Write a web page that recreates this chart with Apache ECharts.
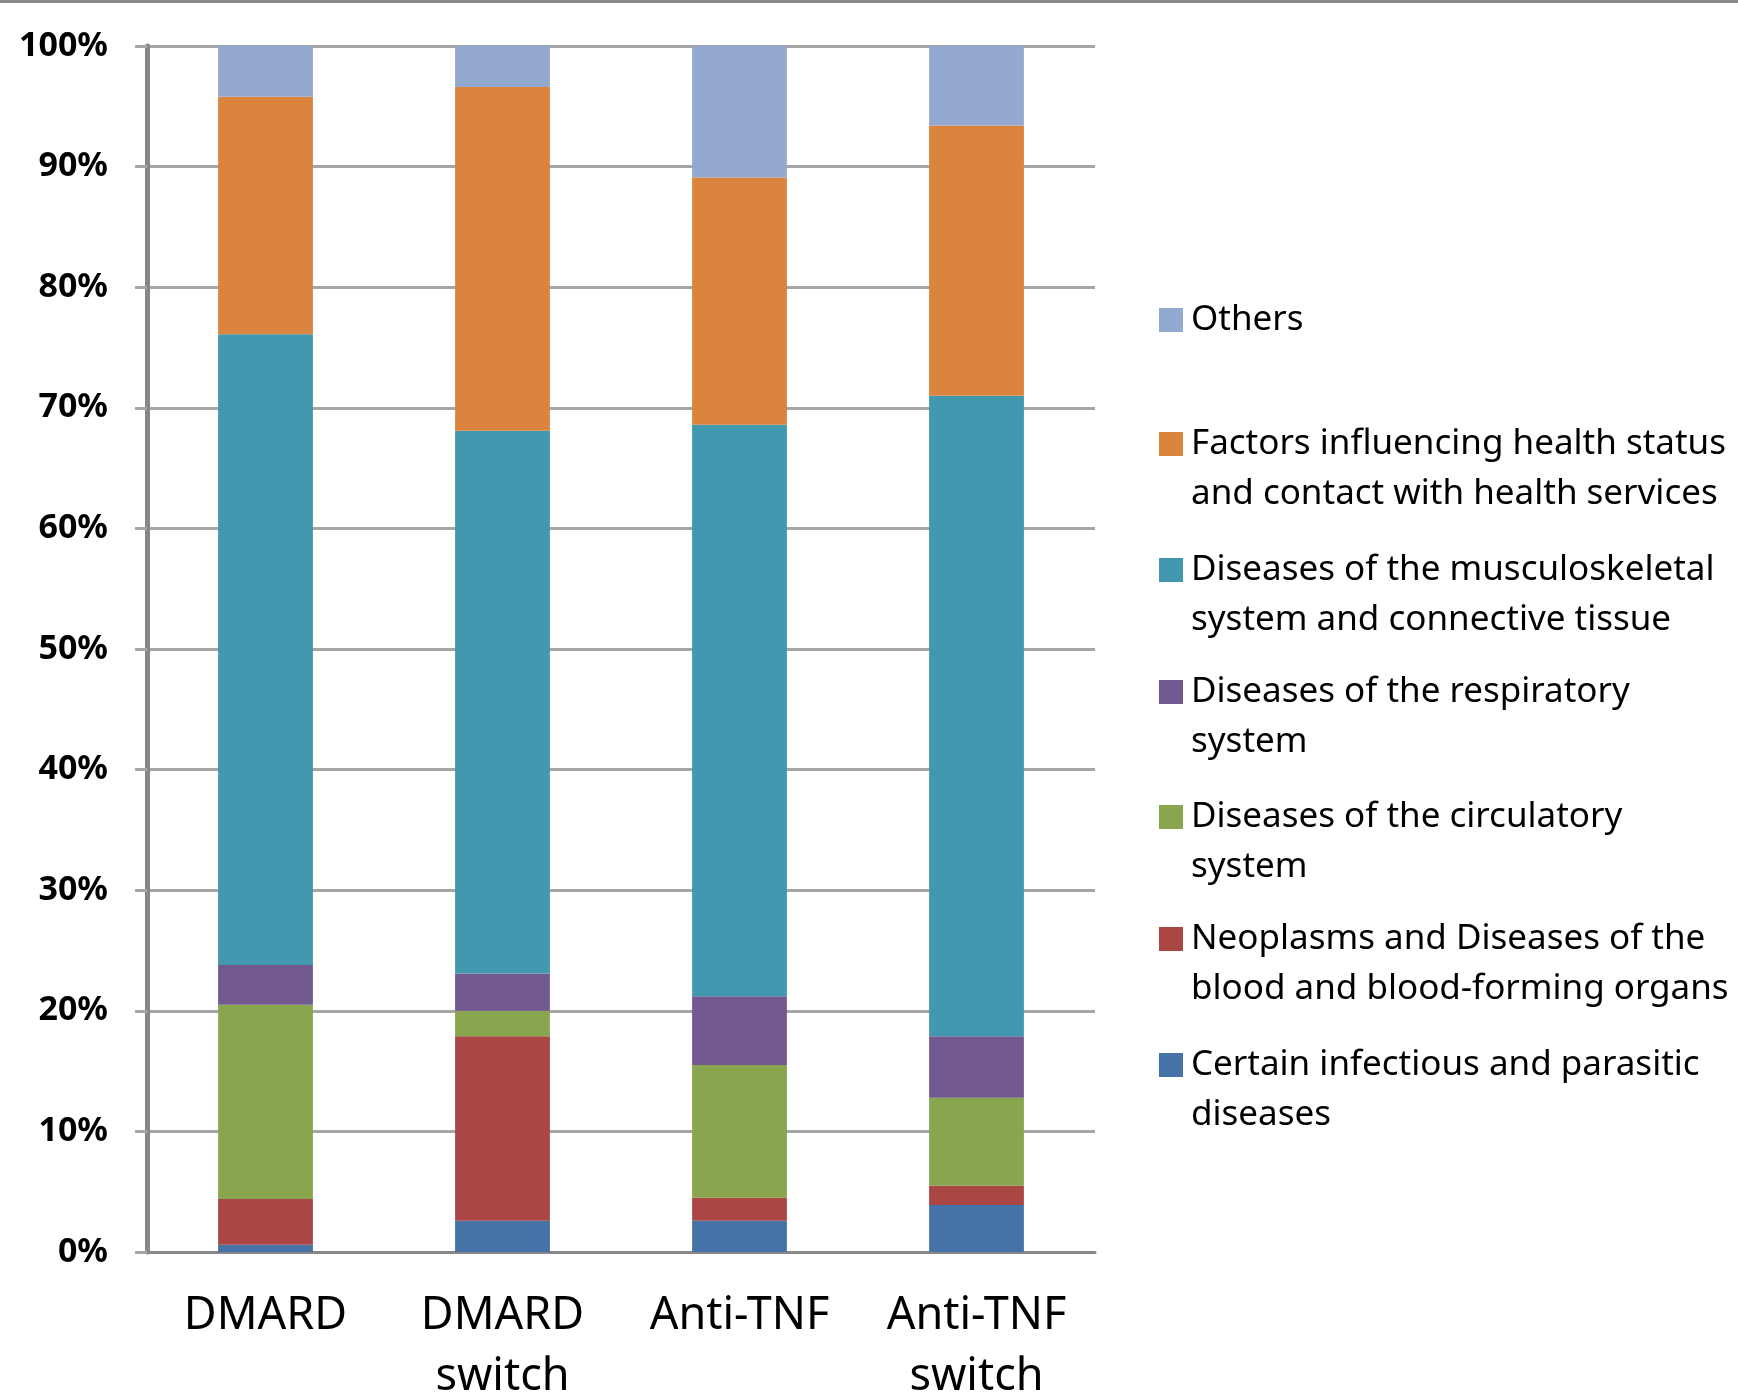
<!DOCTYPE html>
<html>
<head>
    <meta charset="utf-8" />
    <title>Diagnoses by treatment group</title>
    <style>
    body { margin: 0; background: #fff; }
    #chart { width: 1738px; height: 1397px; }
    </style>
    <script src="https://cdn.jsdelivr.net/npm/echarts@6/dist/echarts.min.js"></script>
</head>
<body>
    <div id="chart"></div>
    <script>
    // categories on the x axis
    var categories = ['DMARD', 'DMARD switch', 'Anti-TNF', 'Anti-TNF switch'];

    // share of each diagnosis group (%), bottom of the stack first
    var certainInfectious = [0.6, 2.6, 2.6, 3.9];
    var neoplasms = [3.8, 15.3, 1.9, 1.6];
    var circulatory = [16.1, 2.1, 11.0, 7.3];
    var respiratory = [3.3, 3.1, 5.7, 5.1];
    var musculoskeletal = [52.3, 45.0, 47.4, 53.1];
    var factors = [19.7, 28.5, 20.5, 22.4];
    var others = [4.2, 3.4, 10.9, 6.6];

    // y axis ticks
    var yMin = 0, yMax = 100, yStep = 10;

    var seriesNames = [
        'Certain infectious and parasitic diseases',
        'Neoplasms and Diseases of the blood and blood-forming organs',
        'Diseases of the circulatory system',
        'Diseases of the respiratory system',
        'Diseases of the musculoskeletal system and connective tissue',
        'Factors influencing health status and contact with health services',
        'Others'
    ];
    var seriesData = [certainInfectious, neoplasms, circulatory, respiratory, musculoskeletal, factors, others];
    var colors = ['#4572a7', '#aa4643', '#89a54e', '#71588f', '#4198af', '#db843d', '#93a9cf'];

    // legend text as wrapped in the original
    var legendText = {
        'Others': 'Others',
        'Factors influencing health status and contact with health services': 'Factors influencing health status\nand contact with health services',
        'Diseases of the musculoskeletal system and connective tissue': 'Diseases of the musculoskeletal\nsystem and connective tissue',
        'Diseases of the respiratory system': 'Diseases of the respiratory\nsystem',
        'Diseases of the circulatory system': 'Diseases of the circulatory\nsystem',
        'Neoplasms and Diseases of the blood and blood-forming organs': 'Neoplasms and Diseases of the\nblood and blood-forming organs',
        'Certain infectious and parasitic diseases': 'Certain infectious and parasitic\ndiseases'
    };

    var FONT = 'Noto Sans';
    var LINE = 50;
    // first-line centres of the legend entries, top to bottom
    var legendOrder = seriesNames.slice().reverse();
    var legendCenters = [320, 444, 570, 692, 817, 939, 1065];

    var legends = legendOrder.map(function(name, i) {
        var twoLines = legendText[name].indexOf('\n') >= 0;
        return {
            data: [name],
            orient: 'vertical',
            left: 1159,
            top: legendCenters[i] - (twoLines ? LINE * 1.5 : LINE / 2),
            padding: 0,
            itemWidth: 24,
            itemHeight: 24,
            icon: 'rect',
            // a blank first line keeps the marker level with the first text line
            formatter: function(n) {
                var t = legendText[n];
                return t.indexOf('\n') >= 0 ? ' \n' + t : t;
            },
            textStyle: {
                fontFamily: FONT,
                fontSize: 35,
                color: '#000',
                lineHeight: LINE,
                padding: [0, 0, 0, 3]
            }
        };
    });

    var option = {
        animation: false,
        color: colors,
        graphic: [{
            type: 'rect',
            left: 0,
            top: 0,
            shape: { width: 1738, height: 3 },
            style: { fill: '#888' }
        }],
        legend: legends,
        grid: {
            left: 147,
            right: 643,
            top: 46,
            bottom: 145,
            outerBoundsMode: 'none'
        },
        xAxis: {
            type: 'category',
            data: categories,
            axisLine: { lineStyle: { color: '#878787', width: 3 } },
            axisTick: { length: 14, lineStyle: { color: '#c3c3c3', width: 4 } },
            axisLabel: {
                interval: 0,
                margin: 34,
                fontFamily: FONT,
                fontSize: 45,
                lineHeight: 61,
                color: '#000',
                formatter: function(v) { return v.replace(' switch', '\nswitch'); }
            }
        },
        yAxis: {
            type: 'value',
            min: yMin,
            max: yMax,
            interval: yStep,
            axisLine: { show: true, lineStyle: { color: '#878787', width: 5 } },
            axisTick: { show: true, length: 12, lineStyle: { color: '#a6a6a6', width: 3 } },
            splitLine: { lineStyle: { color: '#a6a6a6', width: 3 } },
            axisLabel: {
                margin: 39,
                fontFamily: FONT,
                fontSize: 34,
                fontWeight: 'bold',
                color: '#000',
                formatter: '{value}%'
            }
        },
        series: seriesNames.map(function(name, i) {
            return {
                name: name,
                type: 'bar',
                stack: 'total',
                barCategoryGap: '60%',
                data: seriesData[i]
            };
        })
    };

    var echart = echarts.init(document.getElementById('chart'));
    echart.setOption(option);
    </script>
</body>
</html>
